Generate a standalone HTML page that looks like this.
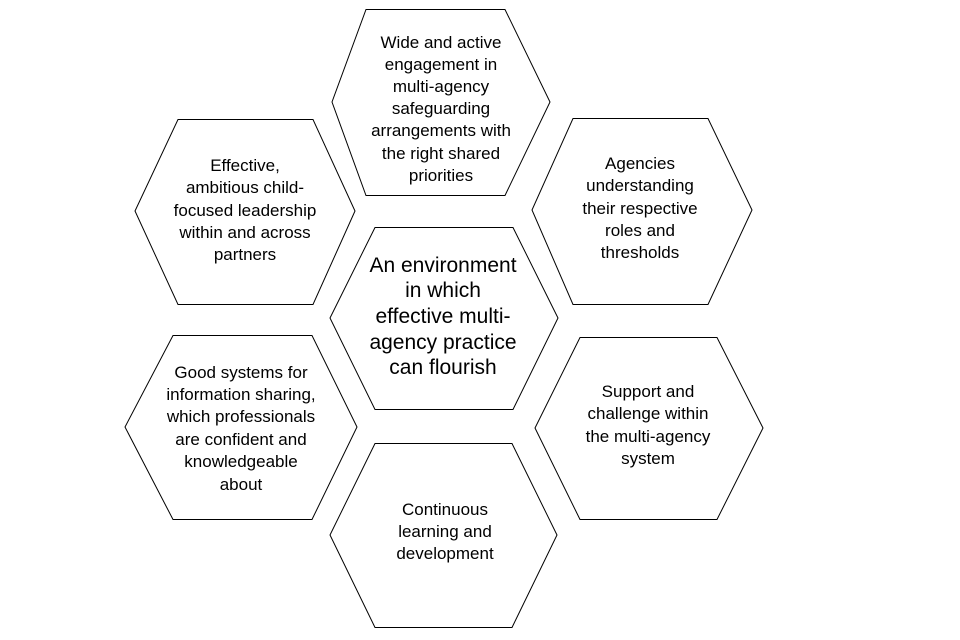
<!DOCTYPE html>
<html><head><meta charset="utf-8"><style>
html,body{margin:0;padding:0;background:#fff;}
svg{display:block;}
text{font-family:"Liberation Sans","DejaVu Sans",sans-serif;fill:#000;text-anchor:middle;}
polygon{fill:#fff;stroke:#000;stroke-width:1;}
</style></head><body>
<svg width="960" height="640" viewBox="0 0 960 640" xmlns="http://www.w3.org/2000/svg">
<polygon points="366,9.5 505,9.5 550,102 505,195.5 366,195.5 332,102"/>
<text font-size="17"><tspan x="441" y="48">Wide and active</tspan><tspan x="441" y="70">engagement in</tspan><tspan x="441" y="92">multi-agency</tspan><tspan x="441" y="114">safeguarding</tspan><tspan x="441" y="136">arrangements with</tspan><tspan x="441" y="159">the right shared</tspan><tspan x="441" y="181">priorities</tspan></text>
<polygon points="178,119.5 313,119.5 355,211 313,304.5 178,304.5 135,211"/>
<text font-size="17"><tspan x="245" y="171">Effective,</tspan><tspan x="245" y="193">ambitious child-</tspan><tspan x="245" y="216">focused leadership</tspan><tspan x="245" y="238">within and across</tspan><tspan x="245" y="260">partners</tspan></text>
<polygon points="573,118.5 708,118.5 752,210 708,304.5 573,304.5 532,210"/>
<text font-size="17"><tspan x="640" y="169">Agencies</tspan><tspan x="640" y="191">understanding</tspan><tspan x="640" y="214">their respective</tspan><tspan x="640" y="236">roles and</tspan><tspan x="640" y="258">thresholds</tspan></text>
<polygon points="375,227.5 513,227.5 558,318 513,409.5 375,409.5 330,318"/>
<text font-size="21"><tspan x="443" y="272">An environment</tspan><tspan x="443" y="297">in which</tspan><tspan x="443" y="323">effective multi-</tspan><tspan x="443" y="349">agency practice</tspan><tspan x="443" y="374">can flourish</tspan></text>
<polygon points="173,335.5 312,335.5 357,427 312,519.5 173,519.5 125,427"/>
<text font-size="17"><tspan x="241" y="378">Good systems for</tspan><tspan x="241" y="400">information sharing,</tspan><tspan x="241" y="422">which professionals</tspan><tspan x="241" y="445">are confident and</tspan><tspan x="241" y="467">knowledgeable</tspan><tspan x="241" y="490">about</tspan></text>
<polygon points="580,337.5 717,337.5 763,428 717,519.5 580,519.5 535,428"/>
<text font-size="17"><tspan x="648" y="397">Support and</tspan><tspan x="648" y="419">challenge within</tspan><tspan x="648" y="442">the multi-agency</tspan><tspan x="648" y="464">system</tspan></text>
<polygon points="375,443.5 512,443.5 557,535 512,627.5 375,627.5 330,535"/>
<text font-size="17"><tspan x="445" y="515">Continuous</tspan><tspan x="445" y="537">learning and</tspan><tspan x="445" y="559">development</tspan></text>
</svg>
</body></html>
